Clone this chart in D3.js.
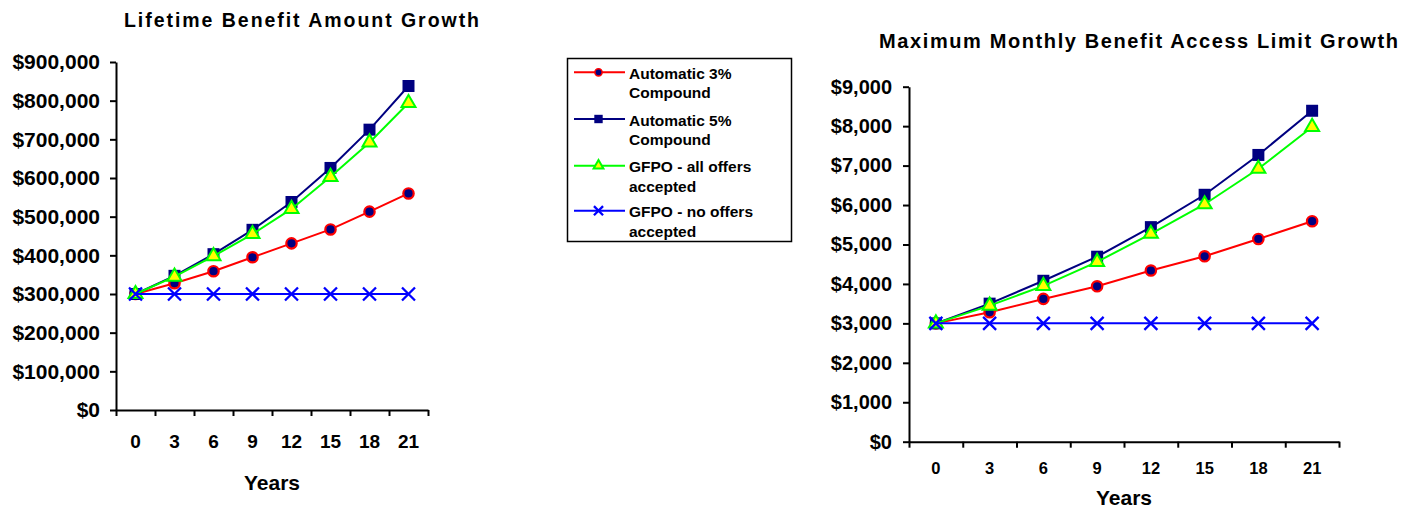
<!DOCTYPE html>
<html>
<head>
<meta charset="utf-8">
<script src="https://cdn.jsdelivr.net/npm/d3@7"></script>
<style>
  body { margin: 0; background: #fff; }
  svg { display: block; font-family: "Liberation Sans", Arial, sans-serif; font-weight: bold; }
</style>
</head>
<body>
<svg id="chart" width="1416" height="508"></svg>
<script>
const years = ["0", "3", "6", "9", "12", "15", "18", "21"];

// lifetime benefit amount ($)
const lifetime3 = [300000, 328000, 359000, 395000, 431000, 467000, 513000, 560000];
const lifetime5 = [300000, 347000, 403000, 466000, 538000, 626000, 725000, 838000];
const lifetimeAll = [300000, 345000, 398000, 455000, 520000, 603000, 692000, 794000];
const lifetimeNone = [300000, 300000, 300000, 300000, 300000, 300000, 300000, 300000];
const lifetimeTicks = [0, 100000, 200000, 300000, 400000, 500000, 600000, 700000, 800000, 900000];

// maximum monthly benefit ($)
const monthly3 = [3000, 3280, 3620, 3940, 4340, 4700, 5140, 5590];
const monthly5 = [3000, 3500, 4080, 4690, 5440, 6260, 7270, 8390];
const monthlyAll = [3000, 3450, 3950, 4560, 5270, 6020, 6920, 7980];
const monthlyNone = [3000, 3000, 3000, 3000, 3000, 3000, 3000, 3000];
const monthlyTicks = [0, 1000, 2000, 3000, 4000, 5000, 6000, 7000, 8000, 9000];

const seriesNames = [
  ["Automatic 3%", "Compound"],
  ["Automatic 5%", "Compound"],
  ["GFPO - all offers", "accepted"],
  ["GFPO - no offers", "accepted"],
];

const svg = d3.select("#chart");

// marker styles per series
const styles = [
  { line: "#ff0000", kind: "circle", fill: "#000080", stroke: "#ff0000" },
  { line: "#000080", kind: "square", fill: "#000080", stroke: "#000080" },
  { line: "#00ff00", kind: "triangle", fill: "#ffff00", stroke: "#00ff00" },
  { line: "#0000ff", kind: "x", fill: "none", stroke: "#0000ff" },
];

const xPath = (s) => `M${-s},${-s}L${s},${s}M${-s},${s}L${s},${-s}`;

function marker(g, st, scale) {
  if (st.kind === "circle") {
    g.append("circle").attr("r", 5.2 * scale)
      .attr("fill", st.fill).attr("stroke", st.stroke).attr("stroke-width", 2.2 * scale);
  } else if (st.kind === "square") {
    g.append("path").attr("d", d3.symbol(d3.symbolSquare, 144 * scale * scale)())
      .attr("fill", st.fill);
  } else if (st.kind === "triangle") {
    g.append("path").attr("d", d3.symbol(d3.symbolTriangle, 85 * scale * scale)())
      .attr("fill", st.fill).attr("stroke", st.stroke).attr("stroke-width", 2);
  } else {
    g.append("path").attr("d", xPath(6.5 * scale))
      .attr("fill", "none").attr("stroke", st.stroke).attr("stroke-width", 2.3);
  }
}

function drawChart(cfg) {
  const { x0, x1, yTop, yBottom, ticks, series, title } = cfg;
  const g = svg.append("g");

  const x = d3.scaleBand().domain(years).range([x0, x1]);
  const edge = d3.scaleLinear().domain([0, years.length]).range([x0, x1]);
  const y = d3.scaleLinear().domain([0, d3.max(ticks)]).range([yBottom, yTop]);

  g.append("text")
    .attr("x", title.x).attr("y", title.y)
    .attr("text-anchor", "middle")
    .attr("font-size", title.size)
    .attr("textLength", title.width)
    .attr("lengthAdjust", "spacing")
    .text(title.text);

  // y axis
  const yAxis = g.append("g")
    .attr("transform", `translate(${x0},0)`)
    .call(d3.axisLeft(y).tickValues(ticks)
      .tickFormat((d) => "$" + d3.format(",")(d))
      .tickSize(6).tickSizeOuter(0).tickPadding(cfg.yPad));
  yAxis.selectAll("text").attr("font-size", cfg.yFont).attr("fill", "#000");

  // x axis: tick marks at category edges, labels at centres
  const xAxis = g.append("g")
    .attr("transform", `translate(0,${yBottom})`)
    .call(d3.axisBottom(edge).tickValues(d3.range(years.length + 1))
      .tickFormat("").tickSize(6).tickSizeOuter(0));
  const xLabels = g.append("g")
    .attr("transform", `translate(0,${yBottom})`)
    .call(d3.axisBottom(x).tickSize(0).tickPadding(cfg.xPad));
  xLabels.select(".domain").remove();
  xLabels.selectAll("text").attr("font-size", cfg.xFont).attr("fill", "#000");

  [yAxis, xAxis].forEach((a) => {
    a.select(".domain").attr("stroke", "#000").attr("stroke-width", 2);
    a.selectAll(".tick line").attr("stroke", "#000").attr("stroke-width", 2);
  });

  g.append("text")
    .attr("x", (x0 + x1) / 2).attr("y", cfg.yearsY)
    .attr("text-anchor", "middle")
    .attr("font-size", 21)
    .text("Years");

  const line = d3.line()
    .x((d, i) => x(years[i]) + x.bandwidth() / 2)
    .y((d) => y(d));

  series.forEach((vals, si) => {
    const st = styles[si];
    g.append("path").datum(vals)
      .attr("d", line)
      .attr("fill", "none")
      .attr("stroke", st.line)
      .attr("stroke-width", 2);
    g.append("g").selectAll("g")
      .data(vals)
      .enter()
      .append("g")
      .attr("transform", (d, i) => `translate(${x(years[i]) + x.bandwidth() / 2},${y(d)})`)
      .each(function () { marker(d3.select(this), st, 1); });
  });
}

drawChart({
  x0: 116, x1: 428, yTop: 62, yBottom: 410,
  ticks: lifetimeTicks,
  series: [lifetime3, lifetime5, lifetimeAll, lifetimeNone],
  yFont: 21, yPad: 10, xFont: 19, xPad: 25, yearsY: 490,
  title: { text: "Lifetime Benefit Amount Growth", x: 301.5, y: 27, size: 19.5, width: 355 },
});

drawChart({
  x0: 909, x1: 1339, yTop: 86.7, yBottom: 441.7,
  ticks: monthlyTicks,
  series: [monthly3, monthly5, monthlyAll, monthlyNone],
  yFont: 20, yPad: 11, xFont: 16.5, xPad: 20.5, yearsY: 505,
  title: { text: "Maximum Monthly Benefit Access Limit Growth", x: 1138.5, y: 48.3, size: 20, width: 519 },
});

// legend
const legend = svg.append("g");
legend.append("rect")
  .attr("x", 567.5).attr("y", 58.5).attr("width", 224).attr("height", 183)
  .attr("fill", "#fff").attr("stroke", "#000").attr("stroke-width", 1.5);

const legendY = [72.3, 119, 165.7, 210.7];
seriesNames.forEach((name, i) => {
  const st = styles[i];
  const row = legend.append("g").attr("transform", `translate(0,${legendY[i]})`);
  row.append("line").attr("x1", 574).attr("x2", 625).attr("y1", 0).attr("y2", 0)
    .attr("stroke", st.line).attr("stroke-width", 2);
  const m = row.append("g").attr("transform", "translate(598.5,0)");
  marker(m, st, 0.7);
  const t = row.append("text").attr("x", 629).attr("y", 6.5).attr("font-size", 15.5);
  t.append("tspan").attr("x", 629).text(name[0]);
  t.append("tspan").attr("x", 629).attr("dy", 19.5).text(name[1]);
});
</script>
</body>
</html>
